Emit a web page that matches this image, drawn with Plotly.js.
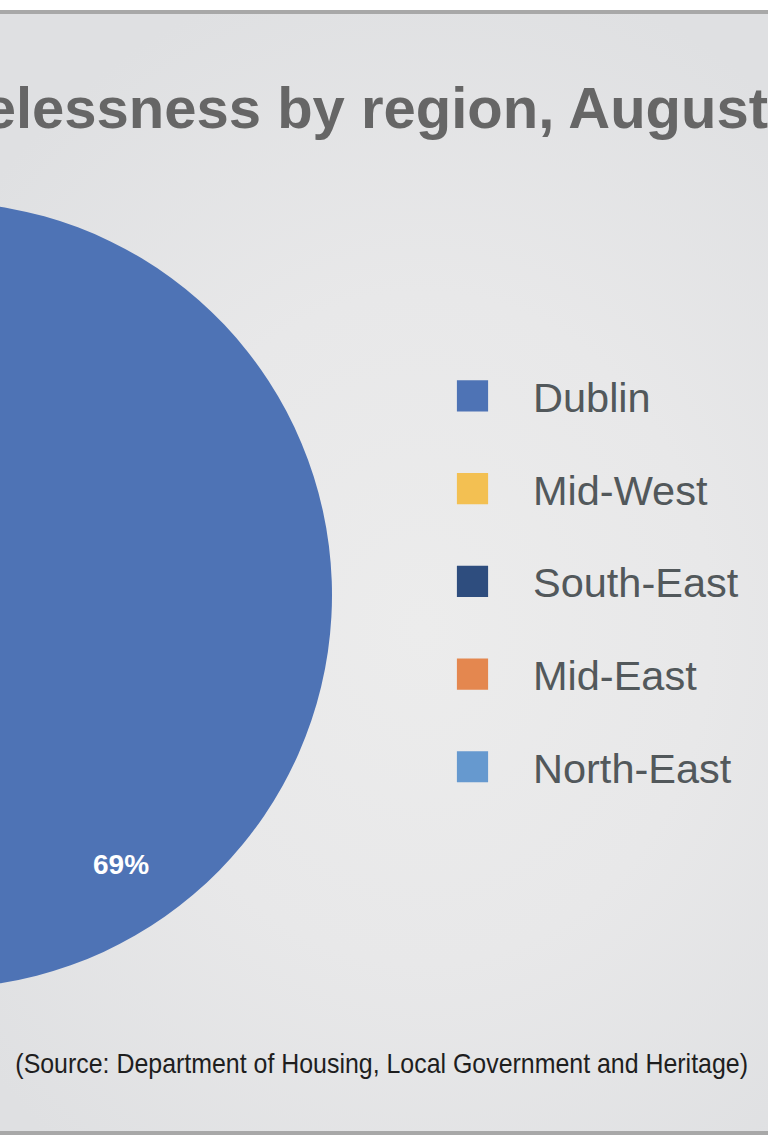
<!DOCTYPE html>
<html><head><meta charset="utf-8">
<script src="https://cdn.plot.ly/plotly-3.0.1.min.js"></script>
<style>
html,body{margin:0;padding:0;width:768px;height:1148px;overflow:hidden;background:#ffffff;}
#frame{position:absolute;left:0;top:10px;width:768px;height:1117px;border-top:4px solid #a8a8a8;border-bottom:4px solid #a8a8a8;
  background:radial-gradient(ellipse 75% 60% at 55% 55%, #ececec 0%, #e8e8e9 50%, #dfe0e2 100%);}
#chart{position:absolute;left:-500px;top:0;width:1768px;height:1148px;}
.legendpie{transform:translate(29.5px,0px) scale(2.6);}
.legendtext{font-size:41.5px !important;transform:translateY(-11px);}
g.annotation[data-index="1"] text{transform-box:fill-box;transform-origin:center;transform:scaleX(0.89);}
</style></head>
<body>
<div id="frame"></div>
<div id="chart"></div>
<script>
// ---- data ----
const labels = ['Dublin', 'Mid-West', 'South-East', 'Mid-East', 'North-East'];
const values = [69, 10, 8, 7, 6];
const colors = ['#4e73b5', '#f3c052', '#2e4d7e', '#e4874f', '#6699cf'];
const titleText = 'Homelessness by region, August 2021';
const sourceText = '(Source: Department of Housing, Local Government and Heritage)';

// ---- geometry (layout only) ----
const W = 1768, H = 1148, OFF = 500;
const pieCx = -61 + OFF, pieCy = 595, pieR = 393;
const domainX = [(pieCx - pieR) / W, (pieCx + pieR) / W];
const domainY = [1 - (pieCy + pieR) / H, 1 - (pieCy - pieR) / H];
const total = values.reduce((a, b) => a + b, 0);
const labelAngle = 56 * Math.PI / 180, labelFrac = 0.826;
const lx = (pieCx + pieR * labelFrac * Math.cos(labelAngle)) / W;
const ly = 1 - (pieCy + pieR * labelFrac * Math.sin(labelAngle)) / H;

const trace = {
  type: 'pie',
  labels: labels,
  values: values,
  marker: {colors: colors, line: {width: 0}},
  sort: false,
  direction: 'clockwise',
  rotation: 0,
  textinfo: 'none',
  hoverinfo: 'label+percent',
  domain: {x: domainX, y: domainY}
};

const layout = {
  width: W, height: H,
  margin: {l: 0, r: 0, t: 0, b: 0},
  paper_bgcolor: 'rgba(0,0,0,0)',
  plot_bgcolor: 'rgba(0,0,0,0)',
  title: {
    text: titleText, x: 0.5, xanchor: 'center', xref: 'container',
    y: 1 - 87.5 / H, yanchor: 'top', yref: 'container',
    font: {family: 'Liberation Sans, Arial, sans-serif', size: 58, color: '#666666', weight: 'bold'}
  },
  showlegend: true,
  legend: {
    x: (443 + OFF) / W, xanchor: 'left',
    y: 1 - 344.6 / H, yanchor: 'top',
    itemwidth: 80,
    font: {family: 'Liberation Sans, Arial, sans-serif', size: 69, color: '#52585b'},
    bgcolor: 'rgba(0,0,0,0)', traceorder: 'normal'
  },
  annotations: [
    {
      text: Math.round(values[0] / total * 100) + '%',
      xref: 'paper', yref: 'paper', x: lx, y: ly, xanchor: 'center', yanchor: 'middle',
      showarrow: false,
      font: {family: 'Liberation Sans, Arial, sans-serif', size: 28, color: '#ffffff', weight: 'bold'}
    },
    {
      text: sourceText,
      xref: 'paper', yref: 'paper', x: (381 + OFF) / W, y: 1 - 1063 / H, xanchor: 'center', yanchor: 'middle',
      showarrow: false,
      font: {family: 'Liberation Sans, Arial, sans-serif', size: 28, color: '#1e1e1e'}
    }
  ]
};

Plotly.newPlot('chart', [trace], layout, {displayModeBar: false, staticPlot: true});
</script>
</body></html>
